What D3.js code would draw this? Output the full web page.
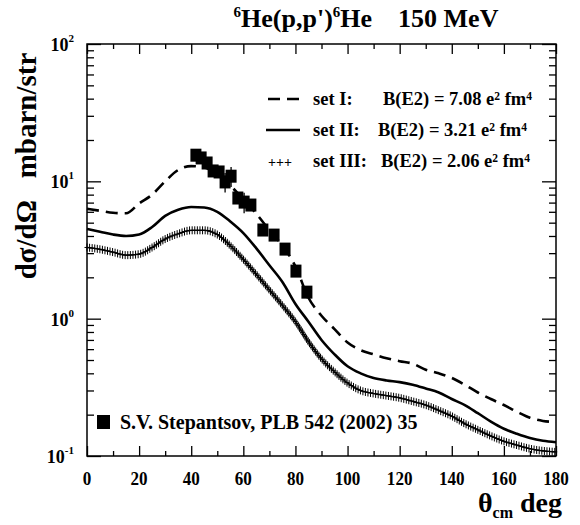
<!DOCTYPE html>
<html><head><meta charset="utf-8">
<script src="https://cdn.jsdelivr.net/npm/d3@7"></script>
<style>body{margin:0;background:#fff}svg{display:block}text{font-family:"Liberation Serif","Times New Roman",serif;font-weight:bold;fill:#000}</style>
</head><body><svg id="c" width="580" height="525"></svg>
<script>
// ---- data ----
const angles = [0,5,10,15,20,25,30,35,40,45,50,55,60,65,70,75,80,85,90,95,100,105,110,115,120,125,130,135,140,145,150,155,160,165,170,175,180];
const setI   = [6.3,6.1,5.9,5.85,6.9,8.0,10.0,12.1,12.9,12.6,11.2,9.3,7.4,5.8,4.4,3.4,2.4,1.42,1.05,0.84,0.67,0.59,0.55,0.515,0.49,0.47,0.425,0.40,0.37,0.33,0.29,0.26,0.235,0.21,0.19,0.18,0.177];
const setII  = [4.5,4.3,4.1,4.0,4.1,4.65,5.6,6.2,6.5,6.45,6.0,5.1,4.2,3.25,2.45,1.85,1.28,0.95,0.70,0.55,0.45,0.40,0.37,0.355,0.345,0.33,0.31,0.29,0.26,0.235,0.205,0.178,0.158,0.145,0.135,0.129,0.126];
const setIII = [3.3,3.2,3.05,2.9,2.95,3.3,3.8,4.15,4.4,4.4,4.1,3.4,2.7,2.1,1.62,1.25,0.95,0.68,0.51,0.41,0.34,0.30,0.285,0.275,0.265,0.25,0.235,0.215,0.195,0.172,0.155,0.14,0.128,0.12,0.113,0.109,0.107];
const expAngles = [41.8,43.8,46.1,48.4,50.7,53.0,55.3,57.9,60.3,62.9,67.5,71.8,76.0,80.2,84.4];
const expValues = [15.5,14.8,13.6,11.9,11.7,9.9,10.9,7.56,7.06,6.72,4.42,4.06,3.21,2.22,1.56];
const expErrors = [0.8,0.8,0.8,0.8,0.8,1.6,1.8,0.6,1.2,0.5,0.35,0.3,0.25,0.2,0.15];
const xTicks = [0,20,40,60,80,100,120,140,160,180];
const yDecades = [0.1,1,10,100];
const yExponents = ["-1","0","1","2"];
const legendLabels = ["set I:","set II:","set III:"];
const legendBE2 = ["7.08","3.21","2.06"];

// ---- layout ----
const L=87,R=556,T=44,B=456;
const svg=d3.select("#c");
const x=d3.scaleLinear().domain([0,180]).range([L,R]);
const y=d3.scaleLog().domain([0.1,100]).range([B,T]);

svg.append("rect").attr("x",L).attr("y",T).attr("width",R-L).attr("height",B-T)
  .attr("fill","none").attr("stroke","#000").attr("stroke-width",1.5);

const xMinor=d3.range(10,180,20);
function xAxis(axisGen,ty,len,vals){
  svg.append("g").attr("transform",`translate(0,${ty})`)
   .call(axisGen(x).tickValues(vals).tickSize(len).tickFormat(""))
   .call(g=>g.select(".domain").remove())
   .call(g=>g.selectAll("line").attr("stroke","#000").attr("stroke-width",1.3));
}
xAxis(d3.axisTop,B,10,xTicks); xAxis(d3.axisTop,B,5,xMinor);
xAxis(d3.axisBottom,T,10,xTicks); xAxis(d3.axisBottom,T,5,xMinor);
svg.append("g").selectAll("text").data(xTicks).join("text")
  .attr("x",d=>x(d)).attr("y",B+29).attr("text-anchor","middle")
  .attr("font-size",19).attr("transform",d=>`translate(${x(d)*0.1},0) scale(0.9,1)`).text(d=>d);

const yMinor=[];
[0.1,1,10].forEach(d=>{for(let k=2;k<=9;k++)yMinor.push(d*k);});
function yAxis(axisGen,tx,len,vals){
  svg.append("g").attr("transform",`translate(${tx},0)`)
   .call(axisGen(y).tickValues(vals).tickSize(len).tickFormat(""))
   .call(g=>g.select(".domain").remove())
   .call(g=>g.selectAll("line").attr("stroke","#000").attr("stroke-width",1.3));
}
yAxis(d3.axisRight,L,14,yDecades); yAxis(d3.axisRight,L,7,yMinor);
yAxis(d3.axisLeft,R,14,yDecades); yAxis(d3.axisLeft,R,7,yMinor);
const yl=svg.append("g").selectAll("text").data(yDecades).join("text")
  .attr("x",74).attr("y",d=>y(d)+7).attr("text-anchor","end").attr("font-size",18);
yl.append("tspan").text("10");
yl.append("tspan").attr("dy",-9).attr("font-size",11).text((d,i)=>yExponents[i]);

// curves
const line=d3.line().x(d=>x(d[0])).y(d=>y(d[1])).curve(d3.curveMonotoneX);
const g=svg.append("g");
g.append("path").datum(angles.map((a,i)=>[a,setI[i]])).attr("d",line)
  .attr("fill","none").attr("stroke","#000").attr("stroke-width",2.6).attr("stroke-dasharray","12,7");
g.append("path").datum(angles.map((a,i)=>[a,setII[i]])).attr("d",line)
  .attr("fill","none").attr("stroke","#000").attr("stroke-width",2.6);
const p3=g.append("path").datum(angles.map((a,i)=>[a,setIII[i]])).attr("d",line)
  .attr("fill","none").attr("stroke","#000").attr("stroke-width",1.2);
const node=p3.node(), len=node.getTotalLength();
const pts=d3.range(0,len,2.6).map(s=>node.getPointAtLength(s));
g.append("g").selectAll("path").data(pts).join("path")
  .attr("d",p=>`M${p.x-2.5},${p.y}H${p.x+2.5}M${p.x},${p.y-4}V${p.y+4}`)
  .attr("stroke","#000").attr("stroke-width",1);

// experimental data
const ex=svg.append("g");
ex.selectAll("line").data(expAngles).join("line")
  .attr("x1",d=>x(d)).attr("x2",d=>x(d))
  .attr("y1",(d,i)=>y(expValues[i]+expErrors[i])).attr("y2",(d,i)=>y(Math.max(expValues[i]-expErrors[i],0.11)))
  .attr("stroke","#000").attr("stroke-width",1.3);
ex.selectAll("rect").data(expAngles).join("rect")
  .attr("x",d=>x(d)-5.5).attr("y",(d,i)=>y(expValues[i])-6.5).attr("width",11).attr("height",13).attr("fill","#000");

// legend
const ly=[99,130,161];
svg.append("line").attr("x1",268).attr("x2",300).attr("y1",ly[0]).attr("y2",ly[0])
  .attr("stroke","#000").attr("stroke-width",2.6).attr("stroke-dasharray","12,7");
svg.append("line").attr("x1",266).attr("x2",300).attr("y1",ly[1]).attr("y2",ly[1])
  .attr("stroke","#000").attr("stroke-width",2.6);
svg.append("text").attr("x",268).attr("y",ly[2]+6).attr("font-size",14).attr("font-weight","normal").text("+++");
const bx=[383,378,381];
legendLabels.forEach((s,i)=>{
  svg.append("text").attr("x",313).attr("y",ly[i]+6).attr("font-size",18.5).text(s);
  const t=svg.append("text").attr("x",bx[i]).attr("y",ly[i]+6).attr("font-size",18.5);
  t.append("tspan").text(`B(E2) = ${legendBE2[i]} e`);
  t.append("tspan").attr("font-size",11.5).attr("dy",-5).text("2");
  t.append("tspan").attr("dy",5).text(" fm");
  t.append("tspan").attr("font-size",11.5).attr("dy",-5).text("4");
});
svg.append("rect").attr("x",97).attr("y",415).attr("width",13).attr("height",14).attr("fill","#000");
svg.append("text").attr("x",120).attr("y",429).attr("font-size",20).text("S.V. Stepantsov, PLB 542 (2002) 35");

// title
const tt=svg.append("text").attr("x",366).attr("y",27).attr("text-anchor","middle").attr("font-size",26);
tt.append("tspan").attr("font-size",15).attr("dy",-10).text("6");
tt.append("tspan").attr("dy",10).text("He(p,p')");
tt.append("tspan").attr("font-size",15).attr("dy",-10).text("6");
tt.append("tspan").attr("dy",10).text("He\u00a0\u00a0\u00a0\u00a0150 MeV");

// y title
svg.append("text").attr("transform","translate(36,166) rotate(-90)").attr("text-anchor","middle")
  .attr("font-size",29).text("d\u03c3/d\u03a9\u00a0\u00a0\u00a0mbarn/str");

// x title
const xt=svg.append("text").attr("x",562).attr("y",512).attr("text-anchor","end").attr("font-size",28);
xt.append("tspan").text("\u03b8");
xt.append("tspan").attr("font-size",16).attr("dy",6).text("cm");
xt.append("tspan").attr("dy",-6).text(" deg");
</script></body></html>
